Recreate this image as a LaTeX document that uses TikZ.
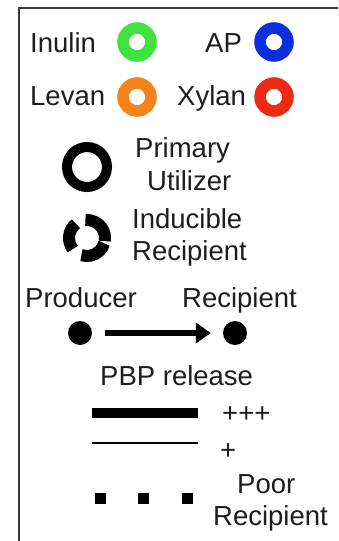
\documentclass[tikz,border=0pt]{standalone}
\usepackage{fontspec}
\setmainfont{Liberation Sans}
\usetikzlibrary{arrows.meta}
\definecolor{txt}{HTML}{1E1E1E}
\definecolor{cgreen}{HTML}{3FE23F}
\definecolor{cblue}{HTML}{0B2FE0}
\definecolor{corange}{HTML}{F8821A}
\definecolor{cred}{HTML}{EE2A12}
\definecolor{frame}{HTML}{3A3A3A}
\begin{document}
\begin{tikzpicture}[x=1pt,y=1pt,
  lbl/.style={anchor=base west, inner sep=0pt, font=\fontsize{27.5}{32}\selectfont, text=txt},
  ring/.style={circle, draw=#1, line width=11.5pt, minimum size=28pt, inner sep=0pt},
  dotnode/.style={circle, fill=black, minimum size=24pt, inner sep=0pt},
  sq/.style={rectangle, fill=black, minimum size=11pt, inner sep=0pt}]
\useasboundingbox (0,0) rectangle (338,-541);
\fill[white] (0,0) rectangle (338,-541);
% frame
\coordinate (fb) at (19,-541);
\coordinate (fc) at (19,-8);
\coordinate (fr) at (338,-8);
\draw[frame, line width=2pt] (fb) -- (fc) -- (fr);
% colour legend
\node[lbl] (tinulin) at (30,-52) {Inulin};
\node[ring=cgreen] (rinulin) at (137,-42) {};
\node[lbl] (tap) at (205,-52) {AP};
\node[ring=cblue] (rap) at (274,-42) {};
\node[lbl] (tlevan) at (30,-105) {Levan};
\node[ring=corange] (rlevan) at (137,-97) {};
\node[lbl] (txylan) at (177,-105) {Xylan};
\node[ring=cred] (rxylan) at (274,-97) {};
% primary utilizer
\node[circle, draw=black, line width=10pt, minimum size=40pt, inner sep=0pt] (rprim) at (87,-167) {};
\node[lbl] (tprim1) at (135,-157) {Primary};
\node[lbl] (tprim2) at (147,-190) {Utilizer};
% inducible recipient
\coordinate (cind) at (87,-238);
\begin{scope}[line width=12pt, black]
\draw (cind) ++(95:18) arc[start angle=95, end angle=-10, radius=18];
\draw (cind) ++(-17:18) arc[start angle=-17, end angle=-108, radius=18];
\draw (cind) ++(128:18) arc[start angle=128, end angle=218, radius=18];
\end{scope}
\node[lbl] (tind1) at (132,-228) {Inducible};
\node[lbl] (tind2) at (132,-260) {Recipient};
% producer -> recipient
\node[lbl] (tprod) at (25,-307) {Producer};
\node[lbl] (trec) at (182,-307) {Recipient};
\node[dotnode] (prod) at (80,-333) {};
\node[dotnode] (rec) at (235,-333) {};
\draw[line width=6pt, -{Triangle[length=15pt, width=20pt]}, shorten <=13pt, shorten >=12pt] (prod) -- (rec);
\node[lbl] (tpbp) at (100,-385) {PBP release};
% line weights
\coordinate (a1) at (92,-413);
\coordinate (a2) at (198,-413);
\draw[line width=10pt] (a1) -- (a2);
\node[lbl] (tppp) at (222,-422) {+++};
\coordinate (b1) at (92,-443);
\coordinate (b2) at (198,-443);
\draw[line width=2.5pt] (b1) -- (b2);
\node[lbl] (tp) at (220,-459) {+};
\node[sq] (s1) at (100,-498) {};
\node[sq] (s2) at (143,-498) {};
\node[sq] (s3) at (187,-498) {};
\node[lbl] (tpoor1) at (237,-493) {Poor};
\node[lbl] (tpoor2) at (213,-525) {Recipient};
\end{tikzpicture}
\end{document}
